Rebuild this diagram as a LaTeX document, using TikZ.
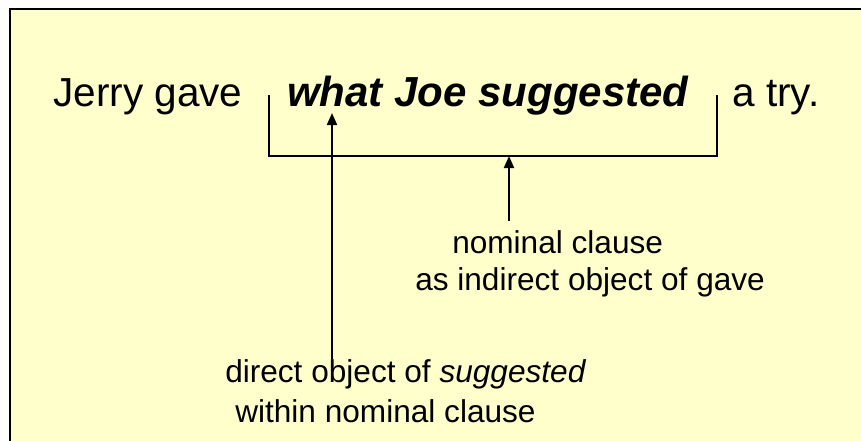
\documentclass[tikz,border=0pt]{standalone}
\usepackage{fontspec}
\setmainfont{Liberation Sans}
\usetikzlibrary{arrows.meta,positioning}
\definecolor{notepaper}{RGB}{255,255,204}

\tikzset{
  sentence/.style={font=\fontsize{30.4}{36}\selectfont, inner sep=0pt, anchor=base west},
  clause/.style={font=\fontsize{31.5}{36}\selectfont\bfseries\itshape, inner sep=0pt, anchor=base west},
  gloss/.style={font=\fontsize{23.7}{28}\selectfont, inner sep=0pt, anchor=base west},
  pointer/.style={line width=1.5pt, -{Triangle[length=9pt,width=7.5pt]}},
  bracket/.style={line width=1.5pt},
}

\begin{document}
\begin{tikzpicture}[x=0.75pt,y=-0.75pt]
    \useasboundingbox (0,0) rectangle (861,440);
    % paper
    \fill[white] (0,0) rectangle (861,440);
    \draw[line width=1.5pt, fill=notepaper] (10,9) rectangle (880,460);

    % sentence
    \node[sentence] (jerry) at (53,106) {Jerry gave};
    \node[clause] (what) at (287,106) {what Joe suggested};
    \node[sentence] (try) at (732,106) {a try.};

    % bracket under the clause
    \coordinate (brkl) at (269,95);
    \coordinate (brkr) at (717,95);
    \coordinate (brkmid) at (509,156);
    \draw[bracket] (brkl) |- (brkmid) -| (brkr);

    % glosses
    \node[gloss] (nom) at (452,253) {nominal clause};
    \node[gloss] (indobj) at (415,290) {as indirect object of gave};
    \node[gloss] (dirobj) at (225,382) {direct object of \textit{suggested}};
    \node[gloss] (within) at (235,422) {within nominal clause};

    % arrows
    \coordinate (whattip) at (332,113);
    \coordinate (nomtop) at ([yshift=7pt]nom.north);
    \draw[pointer] (nomtop -| brkmid) -- (brkmid);
    \draw[pointer] (dirobj.north -| whattip) -- (whattip);
\end{tikzpicture}
\end{document}
